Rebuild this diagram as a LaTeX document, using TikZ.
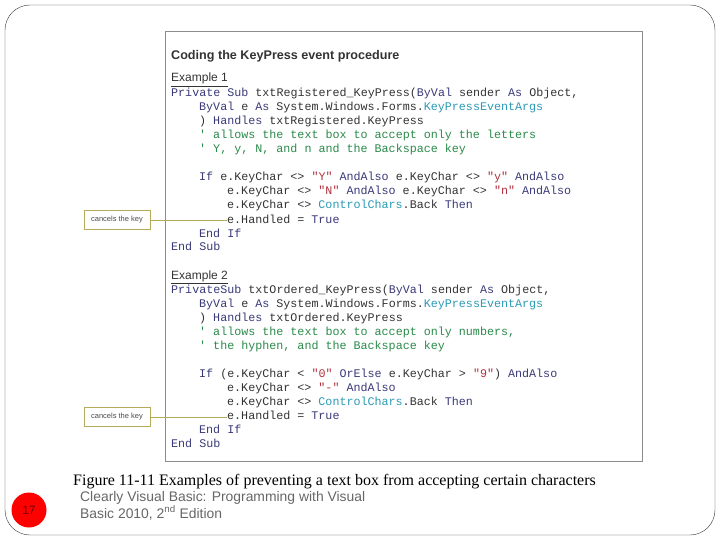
\documentclass[tikz,border=0pt]{standalone}
\usepackage{fontspec}
\setmainfont{Liberation Serif}
\setsansfont{Liberation Sans}
\setmonofont{Liberation Mono}
\usetikzlibrary{positioning}
\definecolor{kw}{HTML}{3A3A78}
\definecolor{tl}{HTML}{2C9AB4}
\definecolor{cm}{HTML}{2A8A4A}
\definecolor{st}{HTML}{B0303E}
\definecolor{ol}{HTML}{B4AC5A}
\newcommand{\K}[1]{\textcolor{kw}{#1}}
\newcommand{\T}[1]{\textcolor{tl}{#1}}
\newcommand{\C}[1]{\textcolor{cm}{#1}}
\newcommand{\Q}[1]{\textcolor{st}{#1}}
\tikzstyle{code} = [anchor=base west, inner sep=0pt, font=\fontsize{11.7}{12}\ttfamily, text=black!80]
\tikzstyle{callout} = [rectangle, draw=ol, thick, fill=white, minimum width=66pt, minimum height=19pt, font=\sffamily\fontsize{7.5}{8}\selectfont, text=black!70]
\begin{document}
\begin{tikzpicture}[x=1pt,y=-1pt]
\useasboundingbox (0,0) rectangle (720,540);
\draw[black!80,rounded corners=25pt] (5,5) rectangle (715,535);
\draw[black!45, thick] (165,31) rectangle (642,461);

    \node[anchor=base west, inner sep=0pt, font=\sffamily\bfseries\fontsize{12.6}{14}\selectfont, text=black!80] (title) at (171,60) {Coding the KeyPress event procedure};
    \node[anchor=base west, inner sep=0pt, font=\sffamily\fontsize{12}{14}\selectfont, text=black!80] (ex1) at (171,82) {\underline{Example 1}};
    \node[code] (a1) at (171,97) {\K{Private Sub} txtRegistered\_KeyPress(\K{ByVal} sender \K{As} Object,};
    \node[code] (a2) at (199,111) {\K{ByVal} e \K{As} System.Windows.Forms.\T{KeyPressEventArgs}};
    \node[code] (a3) at (199,125) {) \K{Handles} txtRegistered.KeyPress};
    \node[code] (a4) at (199,139) {\C{' allows the text box to accept only the letters}};
    \node[code] (a5) at (199,153) {\C{' Y, y, N, and n and the Backspace key}};
    \node[code] (a6) at (199,181) {\K{If} e.KeyChar <> \Q{"Y"} \K{AndAlso} e.KeyChar <> \Q{"y"} \K{AndAlso}};
    \node[code] (a7) at (227,195) {e.KeyChar <> \Q{"N"} \K{AndAlso} e.KeyChar <> \Q{"n"} \K{AndAlso}};
    \node[code] (a8) at (227,209) {e.KeyChar <> \T{ControlChars}.Back \K{Then}};
    \node[code] (a9) at (227,223) {e.Handled = \K{True}};
    \node[code] (a10) at (199,237) {\K{End If}};
    \node[code] (a11) at (171,251) {\K{End Sub}};

    \node[anchor=base west, inner sep=0pt, font=\sffamily\fontsize{12}{14}\selectfont, text=black!80] (ex2) at (171,279) {\underline{Example 2}};
    \node[code] (b1) at (171,293) {\K{PrivateSub} txtOrdered\_KeyPress(\K{ByVal} sender \K{As} Object,};
    \node[code] (b2) at (199,307) {\K{ByVal} e \K{As} System.Windows.Forms.\T{KeyPressEventArgs}};
    \node[code] (b3) at (199,321) {) \K{Handles} txtOrdered.KeyPress};
    \node[code] (b4) at (199,335) {\C{' allows the text box to accept only numbers,}};
    \node[code] (b5) at (199,349) {\C{' the hyphen, and the Backspace key}};
    \node[code] (b6) at (199,377) {\K{If} (e.KeyChar < \Q{"0"} \K{OrElse} e.KeyChar > \Q{"9"}) \K{AndAlso}};
    \node[code] (b7) at (227,391) {e.KeyChar <> \Q{"-"} \K{AndAlso}};
    \node[code] (b8) at (227,405) {e.KeyChar <> \T{ControlChars}.Back \K{Then}};
    \node[code] (b9) at (227,419) {e.Handled = \K{True}};
    \node[code] (b10) at (199,433) {\K{End If}};
    \node[code] (b11) at (171,447) {\K{End Sub}};

    \node[callout] (c1) at (117,220) {cancels the key};
    \node[callout] (c2) at (117,417) {cancels the key};
    \draw[ol, thick] (c1.east) -- (a9.west |- c1.east);
    \draw[ol, thick] (c2.east) -- (b9.west |- c2.east);

    \node[anchor=base west, inner sep=0pt, font=\fontsize{16}{18}\selectfont] (cap) at (73,485) {Figure 11-11 Examples of preventing a text box from accepting certain characters};
    \node[anchor=base west, inner sep=0pt, font=\sffamily\fontsize{13.9}{16}\selectfont, text=black!60] (src1) at (80,501) {Clearly Visual Basic: Programming with Visual};
    \node[anchor=base west, inner sep=0pt, font=\sffamily\fontsize{13.9}{16}\selectfont, text=black!60] (src2) at (80,518) {Basic 2010, 2\textsuperscript{nd} Edition};
    \node[circle, fill=red, minimum size=35pt, inner sep=0pt, font=\sffamily\fontsize{12}{14}\selectfont, text=red!40!black] (pg) at (29,510) {17};
\end{tikzpicture}
\end{document}
